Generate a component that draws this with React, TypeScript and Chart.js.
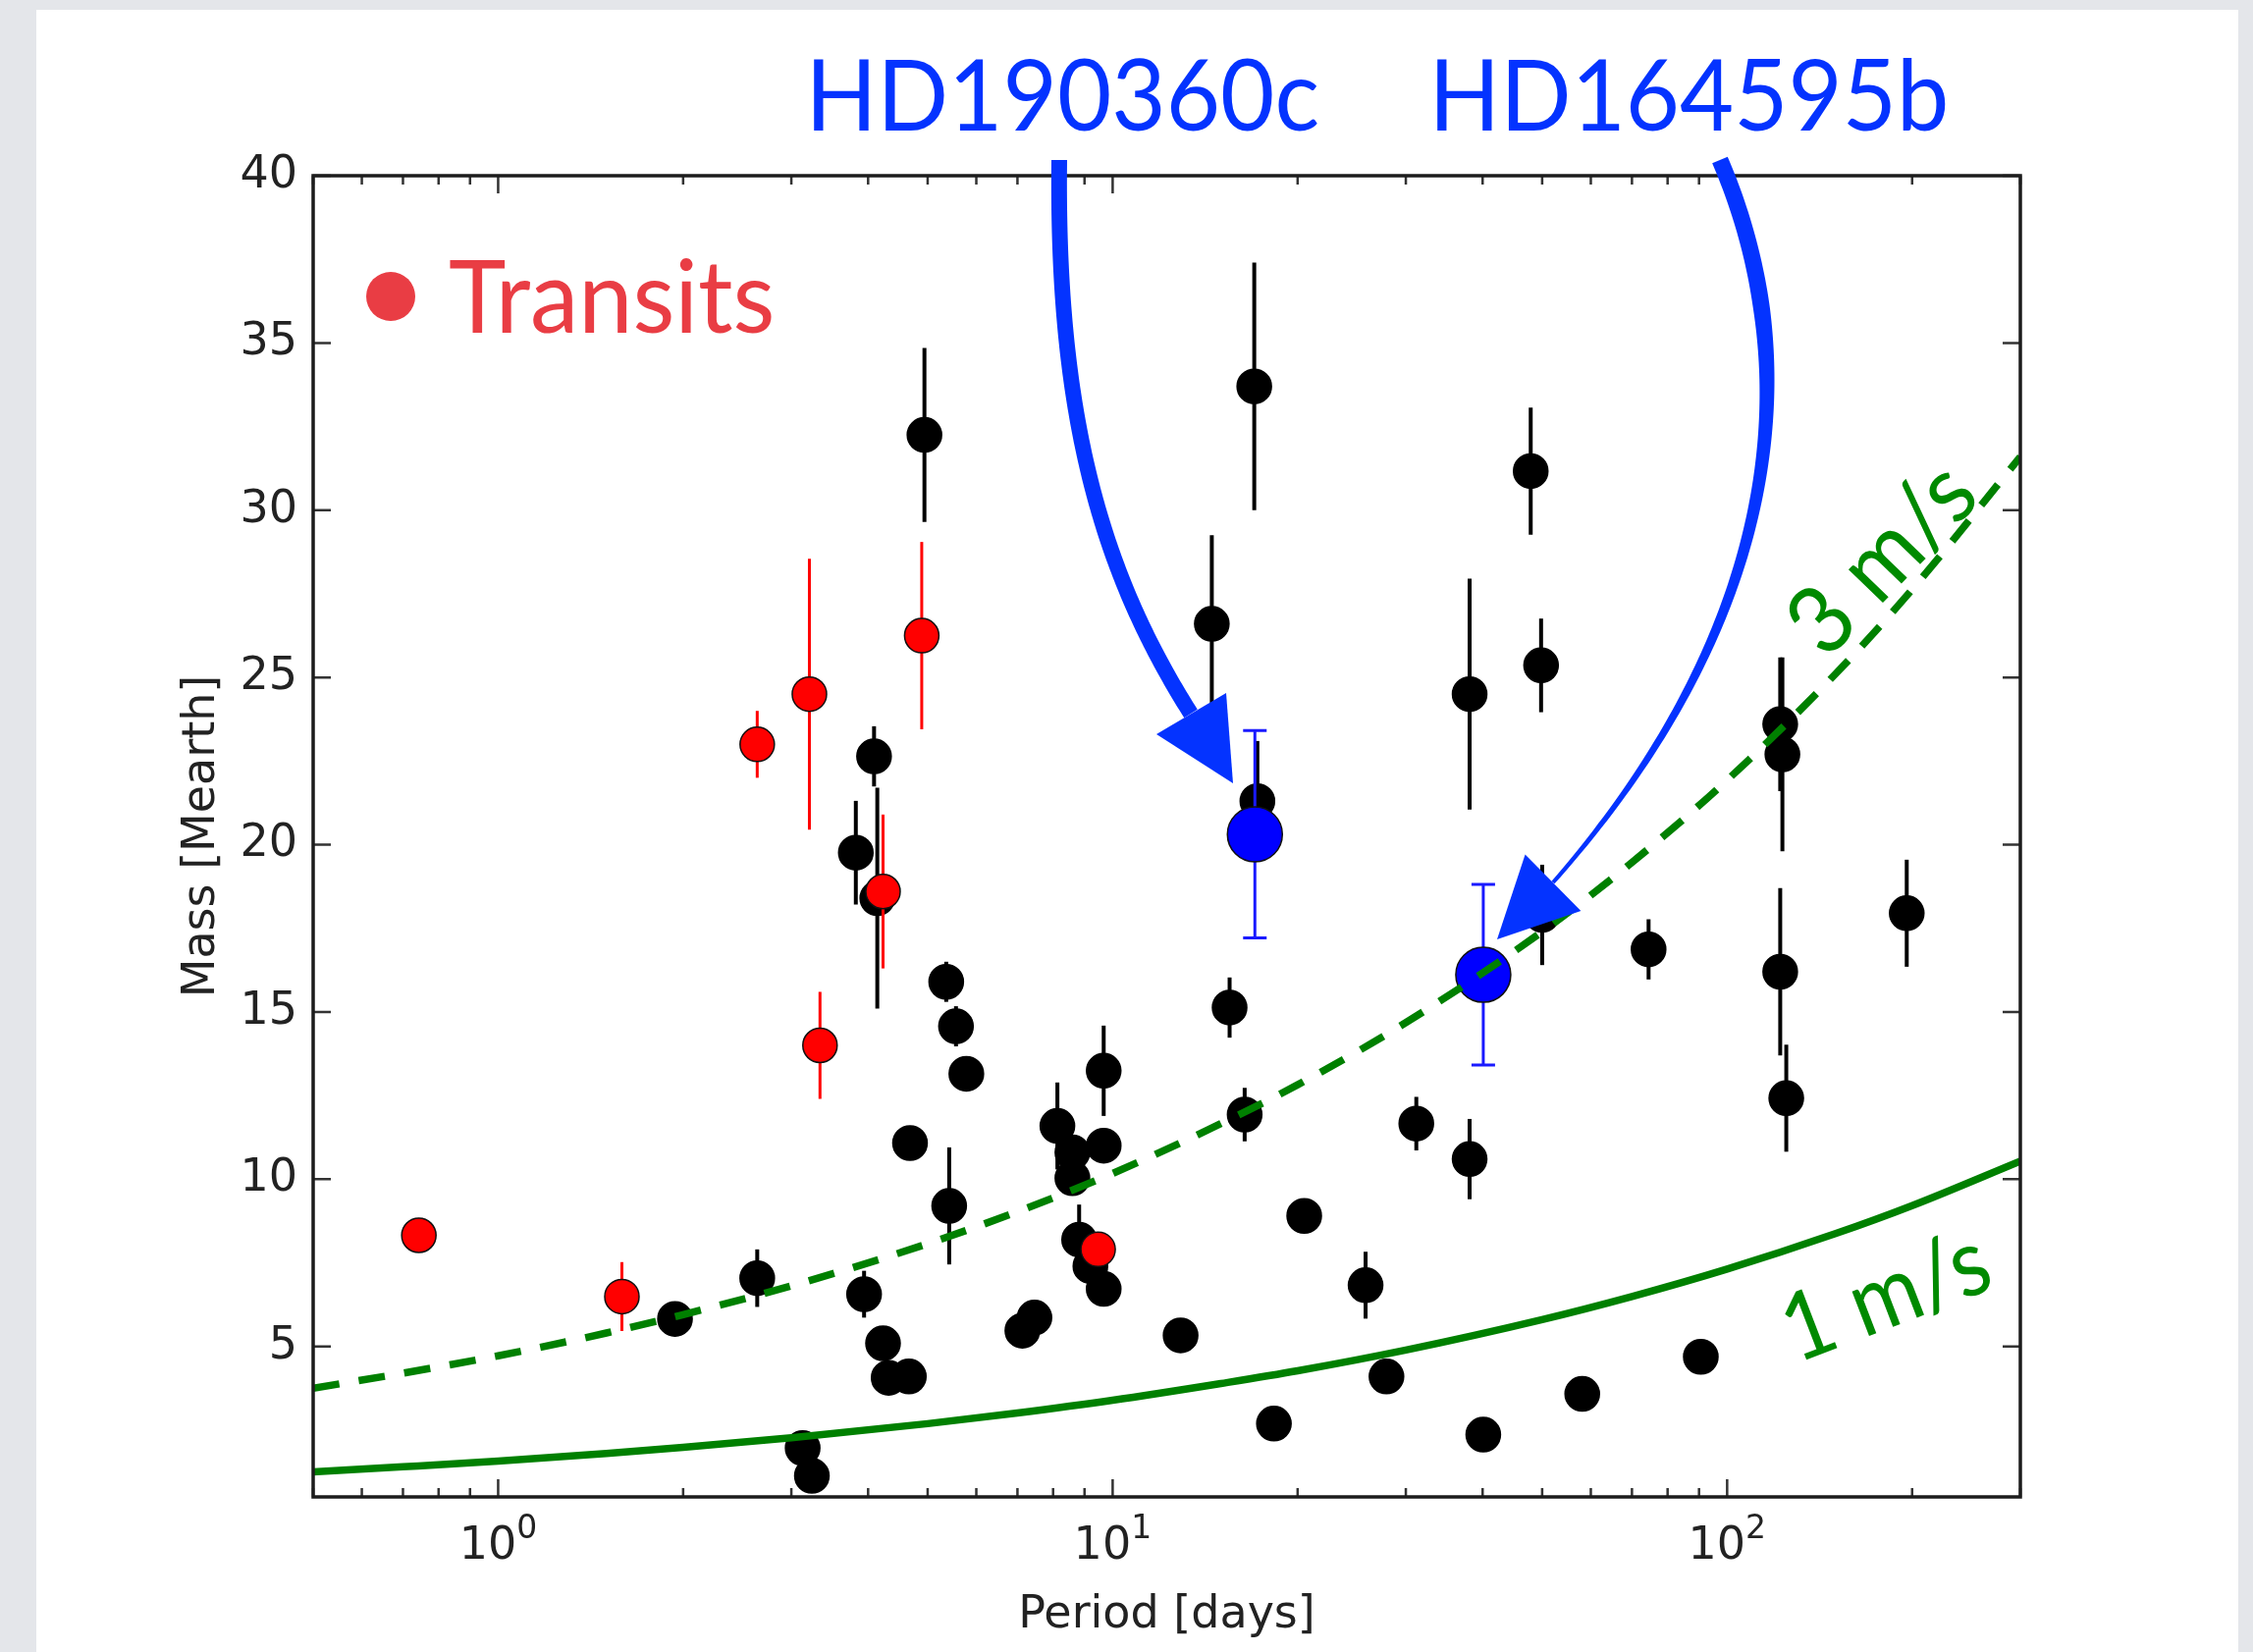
import React, { useEffect, useRef } from 'react';
import { Chart, registerables } from 'chart.js';

Chart.register(...registerables);

const W = 2295;
const H = 1683;

// ---- RV planets (black) ----
const rvPeriod = [1.94, 2.64, 3.13, 3.24, 3.82, 3.94, 4.09, 4.14, 4.23, 4.32, 4.66, 4.68, 4.94, 5.36, 5.56, 5.78, 5.42, 7.13, 7.46, 8.13, 8.6, 8.6, 8.82, 9.2, 9.67, 9.67, 9.67, 12.9, 14.5, 15.5, 16.4, 17.0, 17.2, 18.3, 20.5, 25.8, 27.9, 31.2, 38.1, 38.1, 40.1, 47.9, 49.8, 50.0, 58.1, 74.5, 90.6, 122, 123, 122, 124.8, 196];
const rvMass = [5.82, 7.04, 1.96, 1.13, 19.76, 6.56, 22.64, 18.4, 5.09, 4.06, 4.1, 11.08, 32.25, 15.9, 14.57, 13.15, 9.2, 5.47, 5.86, 11.59, 10.8, 10.03, 8.19, 7.4, 6.72, 13.24, 11.0, 5.33, 26.6, 15.13, 11.93, 33.7, 21.3, 2.69, 8.9, 6.83, 4.1, 11.66, 24.5, 10.6, 2.36, 31.17, 25.36, 17.9, 3.58, 16.87, 4.69, 23.6, 22.7, 16.2, 12.42, 17.95];
const rvMassErr = [0.3, 0.86, 0.2, 0.2, 1.55, 0.7, 0.9, 3.3, 0.3, 0.3, 0.3, 0.3, 2.6, 0.6, 0.6, 0.5, 1.75, 0.2, 0.2, 1.3, 0.5, 0.5, 1.05, 0.5, 0.3, 1.35, 0.4, 0.2, 2.65, 0.9, 0.8, 3.7, 1.8, 0.2, 0.3, 1.0, 0.4, 0.8, 3.45, 1.2, 0.2, 1.9, 1.4, 1.5, 0.2, 0.9, 0.3, 2.0, 2.9, 2.5, 1.6, 1.6];

// ---- Transiting planets (red) ----
const transitPeriod = [0.743, 1.59, 2.64, 3.21, 3.34, 4.23, 4.89, 9.47];
const transitMass = [8.32, 6.49, 23.0, 24.5, 14.0, 18.6, 26.25, 7.9];
const transitMassErr = [0.2, 1.03, 1.0, 4.05, 1.6, 2.3, 2.8, 0.3];

// ---- New planets (blue) ----
const newNames = ['HD190360c', 'HD164595b'];
const newPeriod = [17.04, 40.1];
const newMass = [20.31, 16.11];
const newMassErr = [3.1, 2.7];

// ---- RV detection limits ----
const curvePeriod = [0.5, 0.7, 1, 1.5, 2, 3, 5, 7, 10, 15, 20, 30, 50, 70, 100, 150, 200, 300];
const curve1ms = [1.25, 1.4, 1.57, 1.8, 1.98, 2.27, 2.69, 3.01, 3.39, 3.89, 4.27, 4.89, 5.8, 6.49, 7.31, 8.37, 9.21, 10.54];
const curve3ms = [3.75, 4.2, 4.72, 5.4, 5.95, 6.81, 8.07, 9.03, 10.17, 11.66, 12.82, 14.68, 17.4, 19.47, 21.93, 25.1, 27.63, 31.6];

// ---- ticks ----
const periodTickValues = [1, 10, 100];
const periodTickBase = '10';
const periodTickExponents = ['0', '1', '2'];
const massTickValues = [5, 10, 15, 20, 25, 30, 35, 40];
const massTickLabels = ['5', '10', '15', '20', '25', '30', '35', '40'];

const GREEN = '#008000';
const TEXT_GREEN = '#008a00';
const ANN_BLUE = '#0433ff';
const LEG_RED = '#e93d44';
const TICK_FONT = '"DejaVu Sans", sans-serif';

const toPts = (xs: number[], ys: number[]) => xs.map((x, i) => ({ x, y: ys[i] }));

type P = [number, number];

function bez(p0: P, p1: P, p2: P, p3: P, t: number): P {
  const u = 1 - t;
  return [
    u * u * u * p0[0] + 3 * u * u * t * p1[0] + 3 * u * t * t * p2[0] + t * t * t * p3[0],
    u * u * u * p0[1] + 3 * u * u * t * p1[1] + 3 * u * t * t * p2[1] + t * t * t * p3[1],
  ];
}
function bezD(p0: P, p1: P, p2: P, p3: P, t: number): P {
  const u = 1 - t;
  return [
    3 * u * u * (p1[0] - p0[0]) + 6 * u * t * (p2[0] - p1[0]) + 3 * t * t * (p3[0] - p2[0]),
    3 * u * u * (p1[1] - p0[1]) + 6 * u * t * (p2[1] - p1[1]) + 3 * t * t * (p3[1] - p2[1]),
  ];
}

function drawArrow(ctx: CanvasRenderingContext2D, p0: P, p1: P, p2: P, p3: P, w0: number, w1: number, taperStart: number, tip: P, c1: P, c2: P, color: string) {
  const N = 120;
  const L: P[] = [];
  const R: P[] = [];
  for (let i = 0; i <= N; i++) {
    const t = i / N;
    const [x, y] = bez(p0, p1, p2, p3, t);
    const [dx, dy] = bezD(p0, p1, p2, p3, t);
    const len = Math.hypot(dx, dy) || 1;
    const nx = -dy / len;
    const ny = dx / len;
    const w = t < taperStart ? w0 : w0 + (w1 - w0) * (t - taperStart) / (1 - taperStart);
    L.push([x + nx * w / 2, y + ny * w / 2]);
    R.push([x - nx * w / 2, y - ny * w / 2]);
  }
  ctx.save();
  ctx.fillStyle = color;
  ctx.beginPath();
  ctx.moveTo(L[0][0], L[0][1]);
  for (const p of L) ctx.lineTo(p[0], p[1]);
  for (let i = R.length - 1; i >= 0; i--) ctx.lineTo(R[i][0], R[i][1]);
  ctx.closePath();
  ctx.fill();
  ctx.beginPath();
  ctx.moveTo(tip[0], tip[1]);
  ctx.lineTo(c1[0], c1[1]);
  ctx.lineTo(c2[0], c2[1]);
  ctx.closePath();
  ctx.fill();
  ctx.restore();
}

function drawFitText(ctx: CanvasRenderingContext2D, text: string, x: number, y: number, width: number, size: number, color: string, angle = 0) {
  ctx.save();
  ctx.font = `${size}px Lato, "Open Sans", sans-serif`;
  ctx.textBaseline = 'alphabetic';
  ctx.textAlign = 'left';
  const m = ctx.measureText(text);
  const ink = m.actualBoundingBoxLeft + m.actualBoundingBoxRight;
  const sx = width / ink;
  ctx.translate(x, y);
  ctx.rotate(angle);
  ctx.scale(sx, 1);
  ctx.fillStyle = color;
  ctx.fillText(text, m.actualBoundingBoxLeft, 0);
  ctx.restore();
}

const overlay = {
  id: 'overlay',
  beforeDraw(chart: any) {
    const ctx = chart.ctx as CanvasRenderingContext2D;
    ctx.save();
    ctx.fillStyle = '#e4e6ea';
    ctx.fillRect(0, 0, W, H);
    ctx.fillStyle = '#ffffff';
    ctx.fillRect(37, 10, 2280 - 37, H - 10);
    ctx.restore();
  },
  beforeDatasetDraw(chart: any, args: any) {
    const ds = chart.data.datasets[args.index];
    if (!ds.errors) return;
    const ctx = chart.ctx as CanvasRenderingContext2D;
    const xs = chart.scales.x;
    const ys = chart.scales.y;
    const a = chart.chartArea;
    ctx.save();
    ctx.beginPath();
    ctx.rect(a.left, a.top, a.right - a.left, a.bottom - a.top);
    ctx.clip();
    ctx.strokeStyle = ds.errColor;
    ctx.lineWidth = ds.errWidth;
    ds.data.forEach((pt: any, i: number) => {
      const e = ds.errors[i];
      const px = xs.getPixelForValue(pt.x);
      const y1 = ys.getPixelForValue(pt.y + e);
      const y2 = ys.getPixelForValue(pt.y - e);
      ctx.beginPath();
      ctx.moveTo(px, y1);
      ctx.lineTo(px, y2);
      if (ds.capWidth) {
        ctx.moveTo(px - ds.capWidth / 2, y1);
        ctx.lineTo(px + ds.capWidth / 2, y1);
        ctx.moveTo(px - ds.capWidth / 2, y2);
        ctx.lineTo(px + ds.capWidth / 2, y2);
      }
      ctx.stroke();
    });
    ctx.restore();
  },
  afterDraw(chart: any) {
    const ctx = chart.ctx as CanvasRenderingContext2D;
    const a = chart.chartArea;
    const xs = chart.scales.x;
    const ys = chart.scales.y;
    ctx.save();
    // inner ticks
    ctx.strokeStyle = '#333';
    ctx.lineWidth = 2.5;
    const major = 18;
    const minor = 9;
    const xMin = xs.min;
    const xMax = xs.max;
    for (let d = -1; d <= 2; d++) {
      for (let k = 1; k <= 9; k++) {
        const v = k * Math.pow(10, d);
        if (v < xMin - 1e-9 || v > xMax + 1e-9) continue;
        const px = xs.getPixelForValue(v);
        const len = k === 1 ? major : minor;
        ctx.beginPath();
        ctx.moveTo(px, a.bottom);
        ctx.lineTo(px, a.bottom - len);
        ctx.moveTo(px, a.top);
        ctx.lineTo(px, a.top + len);
        ctx.stroke();
      }
    }
    for (const v of massTickValues) {
      const py = ys.getPixelForValue(v);
      ctx.beginPath();
      ctx.moveTo(a.left, py);
      ctx.lineTo(a.left + major, py);
      ctx.moveTo(a.right, py);
      ctx.lineTo(a.right - major, py);
      ctx.stroke();
    }
    // frame
    ctx.strokeStyle = '#1c1c1c';
    ctx.lineWidth = 3.5;
    ctx.strokeRect(a.left, a.top, a.right - a.left, a.bottom - a.top);

    // x tick labels: 10 with superscript exponent
    ctx.fillStyle = '#222';
    ctx.textBaseline = 'alphabetic';
    ctx.textAlign = 'left';
    periodTickValues.forEach((v, i) => {
      const px = xs.getPixelForValue(v);
      ctx.font = `46px ${TICK_FONT}`;
      const wb = ctx.measureText(periodTickBase).width;
      ctx.font = `33px ${TICK_FONT}`;
      const we = ctx.measureText(periodTickExponents[i]).width;
      const x0 = px - (wb + we) / 2;
      ctx.font = `46px ${TICK_FONT}`;
      ctx.fillText(periodTickBase, x0, a.bottom + 63);
      ctx.font = `33px ${TICK_FONT}`;
      ctx.fillText(periodTickExponents[i], x0 + wb, a.bottom + 42);
    });

    // legend-like label
    ctx.fillStyle = LEG_RED;
    ctx.beginPath();
    ctx.arc(398, 302, 25, 0, Math.PI * 2);
    ctx.fill();
    drawFitText(ctx, 'Transits', 458, 339, 328, 103, LEG_RED);

    // planet names
    drawFitText(ctx, newNames[0], 829, 133, 513, 101, ANN_BLUE);
    drawFitText(ctx, newNames[1], 1464, 133, 518, 101, ANN_BLUE);

    // arrows
    drawArrow(ctx, [1079, 163], [1076, 420], [1120, 580], [1213, 727], 16, 16, 0.5,
      [1256, 798], [1178, 748], [1249, 706], ANN_BLUE);
    drawArrow(ctx, [1752, 163], [1845, 380], [1810, 640], [1582, 899], 17, 4, 0.22,
      [1525, 957], [1553.6, 870.5], [1610.4, 927.9], ANN_BLUE);

    // RV curve labels
    drawFitText(ctx, '3 m/s', 1863, 671, 222, 96, TEXT_GREEN, -46 * Math.PI / 180);
    drawFitText(ctx, '1 m/s', 1836, 1387, 209, 96, TEXT_GREEN, -21 * Math.PI / 180);
    ctx.restore();
  },
};

export default function App() {
  const ref = useRef<HTMLCanvasElement>(null);
  useEffect(() => {
    document.body.style.margin = '0';
    const canvas = ref.current;
    if (!canvas) return;
    const tickFont = { family: TICK_FONT, size: 46 };
    const chart = new Chart(canvas, {
      type: 'scatter',
      data: {
        datasets: [
          {
            label: '1 m/s',
            data: toPts(curvePeriod, curve1ms),
            showLine: true,
            borderColor: GREEN,
            borderWidth: 7.5,
            pointRadius: 0,
            cubicInterpolationMode: 'monotone',
            order: 0,
          } as any,
          {
            label: '3 m/s',
            data: toPts(curvePeriod, curve3ms),
            showLine: true,
            borderColor: GREEN,
            borderWidth: 7.5,
            borderDash: [27, 20],
            pointRadius: 0,
            cubicInterpolationMode: 'monotone',
            order: 0,
          } as any,
          {
            label: 'New planets',
            data: toPts(newPeriod, newMass),
            backgroundColor: '#0000ff',
            borderColor: '#101010',
            borderWidth: 1.5,
            pointRadius: 28,
            order: 1,
            errors: newMassErr,
            errColor: '#1a1aff',
            errWidth: 3,
            capWidth: 24,
          } as any,
          {
            label: 'Transits',
            data: toPts(transitPeriod, transitMass),
            backgroundColor: '#ff0000',
            borderColor: '#101010',
            borderWidth: 1.5,
            pointRadius: 17.5,
            order: 2,
            errors: transitMassErr,
            errColor: '#ff0000',
            errWidth: 3,
          } as any,
          {
            label: 'RV planets',
            data: toPts(rvPeriod, rvMass),
            backgroundColor: '#000000',
            borderColor: '#000000',
            borderWidth: 1.5,
            pointRadius: 17.5,
            order: 3,
            errors: rvMassErr,
            errColor: '#000000',
            errWidth: 4,
          } as any,
        ],
      },
      options: {
        responsive: false,
        animation: false,
        devicePixelRatio: 1,
        events: [],
        layout: { padding: { left: 0, top: 179, right: 237, bottom: 0 } },
        plugins: {
          legend: { display: false },
          tooltip: { enabled: false },
        },
        scales: {
          x: {
            type: 'logarithmic',
            min: 0.5,
            max: 300,
            grid: { display: false, drawTicks: false },
            border: { display: false },
            afterBuildTicks: (s: any) => {
              s.ticks = periodTickValues.map((v) => ({ value: v, major: true }));
            },
            afterFit: (s: any) => { s.height = 158; },
            ticks: { display: false },
            title: {
              display: true,
              text: 'Period [days]',
              color: '#222',
              font: tickFont,
              padding: { top: 0, bottom: 9 },
            },
          },
          y: {
            type: 'linear',
            min: 0.5,
            max: 40,
            grid: { display: false, drawTicks: false },
            border: { display: false },
            afterBuildTicks: (s: any) => {
              s.ticks = massTickValues.map((v) => ({ value: v }));
            },
            afterFit: (s: any) => { s.width = 319; },
            ticks: {
              autoSkip: false,
              padding: 16,
              color: '#222',
              font: tickFont,
              callback: (v: any) => {
                const i = massTickValues.indexOf(Number(v));
                return i >= 0 ? massTickLabels[i] : '';
              },
            },
            title: {
              display: true,
              text: 'Mass [Mearth]',
              color: '#222',
              font: tickFont,
              padding: { top: 178, bottom: 0 },
            },
          },
        },
      } as any,
      plugins: [overlay as any],
    });
    return () => chart.destroy();
  }, []);
  return (
    <div style={{ position: 'absolute', left: 0, top: 0, width: W, height: H }}>
      <canvas ref={ref} width={W} height={H} style={{ display: 'block', width: W, height: H }} />
    </div>
  );
}
